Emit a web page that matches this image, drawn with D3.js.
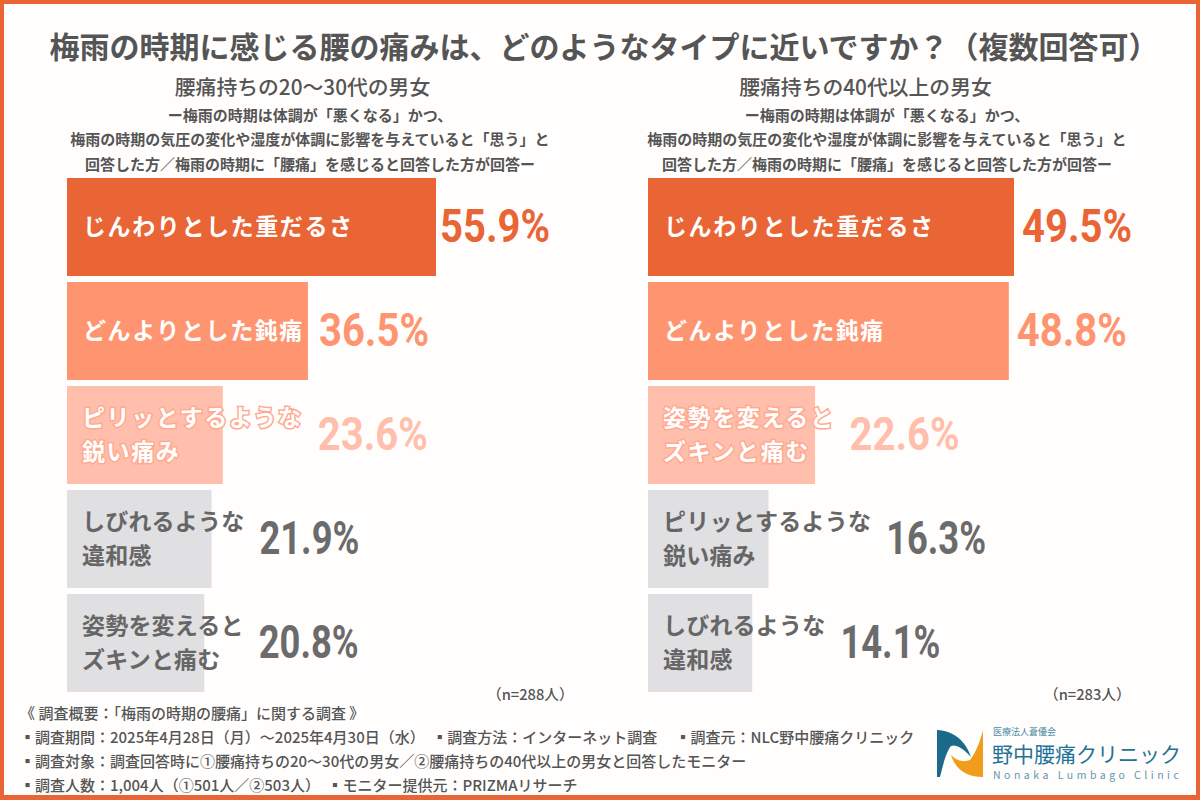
<!DOCTYPE html>
<html lang="ja">
<head>
<meta charset="UTF-8">
<title>梅雨の時期の腰の痛み</title>
<script src="https://d3js.org/d3.v7.min.js"></script>
<style>
  body { margin: 0; background: #fff; }
  svg { display: block; }
  text { font-family: "Noto Sans CJK JP", "Noto Sans", sans-serif; fill: #555; }
  .value { font-family: "Roboto", sans-serif; font-weight: 700; font-size: 46px; }
  .bar-label { font-size: 23px; font-weight: 700; }
  .foot { white-space: pre; }
</style>
</head>
<body>
<div id="chart"></div>
<script>
const titleText = "梅雨の時期に感じる腰の痛みは、どのようなタイプに近いですか？（複数回答可）";
const noteLines = [
  "ー梅雨の時期は体調が「悪くなる」かつ、",
  "梅雨の時期の気圧の変化や湿度が体調に影響を与えていると「思う」と",
  "回答した方／梅雨の時期に「腰痛」を感じると回答した方が回答ー"
];

const leftTitle = "腰痛持ちの20～30代の男女";
const leftLabels = [
  ["じんわりとした重だるさ"],
  ["どんよりとした鈍痛"],
  ["ピリッとするような", "鋭い痛み"],
  ["しびれるような", "違和感"],
  ["姿勢を変えると", "ズキンと痛む"]
];
const leftValues = [55.9, 36.5, 23.6, 21.9, 20.8];
const leftN = "（n=288人）";

const rightTitle = "腰痛持ちの40代以上の男女";
const rightLabels = [
  ["じんわりとした重だるさ"],
  ["どんよりとした鈍痛"],
  ["姿勢を変えると", "ズキンと痛む"],
  ["ピリッとするような", "鋭い痛み"],
  ["しびれるような", "違和感"]
];
const rightValues = [49.5, 48.8, 22.6, 16.3, 14.1];
const rightN = "（n=283人）";

const footerLines = [
  "《 調査概要：「梅雨の時期の腰痛」に関する調査 》",
  "▪調査期間：2025年4月28日（月）～2025年4月30日（水）　▪調査方法：インターネット調査　 ▪調査元：NLC野中腰痛クリニック",
  "▪調査対象：調査回答時に①腰痛持ちの20～30代の男女／②腰痛持ちの40代以上の男女と回答したモニター",
  "▪調査人数：1,004人（①501人／②503人）　▪モニター提供元：PRIZMAリサーチ"
];

const orange = "#e96536";
const rankColors = [orange, "#ff9570", "#ffbfac", "#e0dfe1", "#e0dfe1"];
const valueColors = [orange, "#ff9570", "#ffbfac", "#6b6b6b", "#6b6b6b"];
const labelColors = ["#fff", "#fff", "#fff", "#666", "#666"];
// the top two rows are set wider than the others in the original
const labelSpacing = [1.6, 1.6, 1.6, 0.2, 0.2];
const valueSqueeze = [0.87, 0.87, 0.87, 0.79, 0.79];

const svg = d3.select("#chart").append("svg").attr("width", 1200).attr("height", 800);

svg.append("rect").attr("width", 1200).attr("height", 800).attr("fill", orange);
svg.append("rect").attr("x", 4).attr("y", 4).attr("width", 1192).attr("height", 791).attr("fill", "#fffefd");

svg.append("text").attr("x", 604).attr("y", 58)
  .attr("text-anchor", "middle")
  .style("font-size", "30px").style("font-weight", 700)
  .text(titleText);

function drawPanel(opts) {
  const g = svg.append("g");
  const x = d3.scaleLinear().domain([0, opts.max]).range([opts.left, opts.barEnd]);
  const y = d3.scaleBand().domain(d3.range(opts.values.length)).range([178, 692]).paddingInner(0.0577);

  g.append("text").attr("x", opts.titleX).attr("y", 95)
    .attr("text-anchor", "middle")
    .style("font-size", "20.8px").style("font-weight", 500)
    .text(opts.title);

  g.selectAll(".note").data(noteLines).join("text")
    .attr("class", "note")
    .attr("x", opts.center)
    .attr("y", (d, i) => 120.5 + i * 24.5)
    .attr("text-anchor", "middle")
    .style("font-size", "15px").style("font-weight", 700)
    .text(d => d);

  g.selectAll(".bar").data(opts.values).join("rect")
    .attr("class", "bar")
    .attr("x", opts.left)
    .attr("y", (d, i) => y(i))
    .attr("width", d => x(d) - opts.left)
    .attr("height", y.bandwidth())
    .attr("fill", (d, i) => rankColors[i]);

  opts.values.forEach((v, i) => {
    const lines = opts.labels[i];
    const mid = y(i) + y.bandwidth() / 2;
    const labelX = opts.left + (lines.length > 1 ? 15 : 16);
    const label = g.append("text").attr("class", "bar-label")
      .style("fill", labelColors[i])
      .style("letter-spacing", labelSpacing[i] + "px");
    // third row is light, so the original puts an outline round the white text
    if (i === 2) {
      label.style("stroke", "#ffa98f").style("stroke-width", "3px").style("paint-order", "stroke");
    }
    label.selectAll("tspan").data(lines).join("tspan")
      .attr("x", labelX)
      .attr("y", (d, k) => mid + 8 + (k - (lines.length - 1) / 2) * 34)
      .text(d => d);

    const labelEnd = labelX + d3.max(label.selectAll("tspan").nodes(), n => n.getComputedTextLength());
    const vx = Math.max(x(v) + opts.barGap, labelEnd + 15);
    // no narrow DIN style face installed, so squeeze Roboto to the same width
    g.append("text").attr("class", "value")
      .attr("transform", `translate(${vx},${mid + 15}) scale(${valueSqueeze[i]},1)`)
      .style("fill", valueColors[i])
      .text(v.toFixed(1) + "%");
  });

  g.append("text").attr("x", opts.nX).attr("y", 700)
    .style("font-size", "14.7px").style("font-weight", 500)
    .text(opts.n);
}

drawPanel({ left: 67, barEnd: 436, max: 55.9, center: 310, titleX: 302.5, barGap: 4, nX: 487,
  title: leftTitle, labels: leftLabels, values: leftValues, n: leftN });
drawPanel({ left: 648, barEnd: 1014, max: 49.5, center: 887, titleX: 865.5, barGap: 8, nX: 1044,
  title: rightTitle, labels: rightLabels, values: rightValues, n: rightN });

svg.selectAll(".foot").data(footerLines).join("text")
  .attr("class", "foot")
  .attr("x", 20)
  .attr("y", (d, i) => 719 + i * 24)
  .style("font-size", "15px").style("font-weight", 500)
  .text(d => d);

// logo
const logo = svg.append("g");
logo.append("path").attr("fill", "#1b6a8c")
  .attr("d", "M937,730 C955,731 966,742 971,757 C962,747 955,744 951,746 C946,752 943,765 940,777 L937,777 Z");
logo.append("path").attr("fill", "#f19d1c")
  .attr("d", "M983,730 L983,777 C965,777 955,768 951,755 C958,762 965,762 970,760 C976,752 980,742 983,730 Z");
logo.append("text").attr("x", 993).attr("y", 735)
  .style("font-size", "9px").style("fill", "#4b8aa5").text("医療法人蒼優会");
logo.append("text").attr("x", 992).attr("y", 762)
  .style("font-size", "21px").style("fill", "#1f7396").text("野中腰痛クリニック");
logo.append("text").attr("x", 993).attr("y", 779)
  .style("font-size", "10.5px").style("fill", "#5f96ad").style("letter-spacing", "3.5px")
  .text("Nonaka Lumbago Clinic");
</script>
</body>
</html>
